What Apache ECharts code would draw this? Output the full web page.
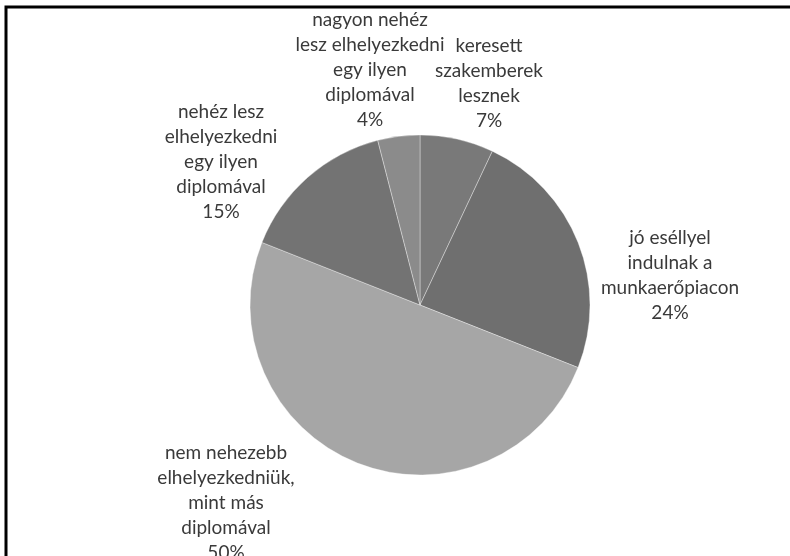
<!DOCTYPE html>
<html>
<head>
<meta charset="utf-8">
<script src="https://cdn.jsdelivr.net/npm/echarts@6/dist/echarts.min.js"></script>
<style>
html,body{margin:0;padding:0;background:#fff;}
#c{width:790px;height:556px;}
</style>
</head>
<body>
<div id="c"></div>
<script>
const categories = [
  'keresett\nszakemberek\nlesznek',
  'jó eséllyel\nindulnak a\nmunkaerőpiacon',
  'nem nehezebb\nelhelyezkedniük,\nmint más\ndiplomával',
  'nehéz lesz\nelhelyezkedni\negy ilyen\ndiplomával',
  'nagyon nehéz\nlesz elhelyezkedni\negy ilyen\ndiplomával'
];
const values = [7, 24, 50, 15, 4];

const sliceColors = ['#797979', '#6f6f6f', '#a6a6a6', '#737373', '#8b8b8b'];
// label anchor offsets from pie centre (px)
const labelOffsets = [[69, -222], [250, -30], [-194, 198], [-199, -143], [-50, -235]];
const CX = 420, CY = 305;

const chart = echarts.init(document.getElementById('c'));
chart.setOption({
  backgroundColor: '#ffffff',
  animation: false,
  graphic: [{
    type: 'rect',
    shape: { x: 6, y: 7, width: 800, height: 600 },
    style: { fill: 'none', stroke: '#000', lineWidth: 3 },
    silent: true
  }],
  series: [{
    type: 'pie',
    center: [CX, CY],
    radius: [0, 170],
    startAngle: 90,
    clockwise: true,
    data: categories.map((n, i) => ({
      name: n, value: values[i],
      itemStyle: { color: sliceColors[i] }
    })),
    itemStyle: { borderColor: 'rgba(255,255,255,0.35)', borderWidth: 1 },
    label: {
      show: true,
      position: 'outside',
      formatter: p => p.name + '\n' + p.value + '%',
      fontFamily: 'Lato',
      fontSize: 19,
      lineHeight: 25,
      color: '#3a3a3a',
      align: 'center'
    },
    labelLine: { show: false },
    labelLayout: p => ({
      x: CX + labelOffsets[p.dataIndex][0],
      y: CY + labelOffsets[p.dataIndex][1],
      align: 'center',
      verticalAlign: 'middle'
    })
  }]
});
</script>
</body>
</html>
